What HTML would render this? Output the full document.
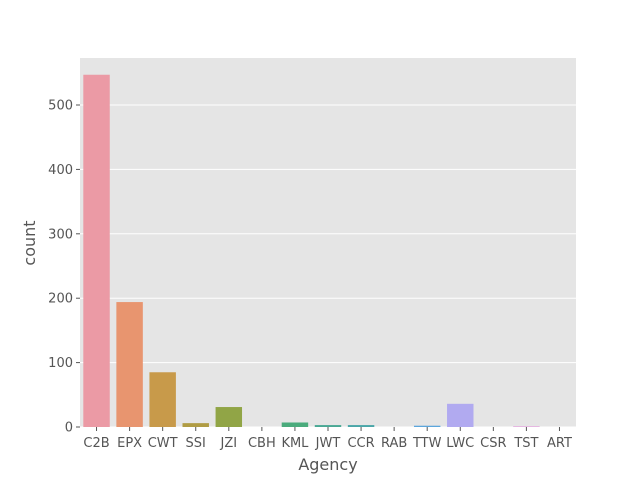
<!DOCTYPE html>
<html><head><meta charset="utf-8"><style>body{margin:0;background:#fff}svg{display:block;font-family:"DejaVu Sans","Liberation Sans",sans-serif}</style></head>
<body>
<svg id="chart" width="640" height="480" viewBox="0 0 640 480">
<rect x="80" y="58" width="496" height="369" fill="#e5e5e5"/>
<g id="grid"></g><g id="bars"></g><g id="axes"></g>
<text x="328" y="470" font-size="16" fill="#555" text-anchor="middle">Agency</text>
<text transform="translate(35,243) rotate(-90)" font-size="16" fill="#555" text-anchor="middle">count</text>
</svg>
<script>
const categories=["C2B","EPX","CWT","SSI","JZI","CBH","KML","JWT","CCR","RAB","TTW","LWC","CSR","TST","ART"];
const counts=[547,194,85,6,31,0,7,3,3,0,2,36,0,1,0];
const colors=["#eb9aa5","#e8956f","#c89a4a","#b09c44","#91a546","#5fab5a","#4aab7c","#4aa894","#4aa6a8","#4fa6c0","#5ca6dc","#b1aaf0","#cfa0ef","#e59fdf","#eb9bc6"];
const yTicks=[0,100,200,300,400,500];
const NS="http://www.w3.org/2000/svg";
const X0=80,W=496,Y0=427,Ytop=58,YMAX=573;
const band=W/categories.length;
const y=v=>Y0-v/YMAX*(Y0-Ytop);
const xc=i=>X0+band*(i+0.5);
function mk(t,a,p){const e=document.createElementNS(NS,t);for(const k in a)e.setAttribute(k,a[k]);p.appendChild(e);return e;}
const grid=document.getElementById('grid'),bars=document.getElementById('bars'),axes=document.getElementById('axes');
yTicks.forEach(t=>{
 const l=mk('line',{x1:X0,x2:X0+W,y1:y(t),y2:y(t),stroke:'#fff','stroke-width':1},grid);
 
 
 const tk=mk('line',{x1:X0-4,x2:X0,y1:y(t),y2:y(t),stroke:'#555'},axes);
 
 
 const tx=mk('text',{x:X0-7,y:y(t)+4.5,'font-size':13,fill:'#555','text-anchor':'end'},axes);
 tx.textContent=t;
 
 
});
categories.forEach((c,i)=>{
 const bw=band*0.8;
 const r=mk('rect',{x:xc(i)-bw/2,y:y(counts[i]),width:bw,height:Y0-y(counts[i]),fill:colors[i]},bars);
 
 
 const tk=mk('line',{x1:xc(i),x2:xc(i),y1:Y0,y2:Y0+4,stroke:'#555'},axes);
 
 
 const tx=mk('text',{x:xc(i),y:Y0+20,'font-size':13,fill:'#555','text-anchor':'middle'},axes);
 tx.textContent=c;
 
 
});
</script>
</body></html>
